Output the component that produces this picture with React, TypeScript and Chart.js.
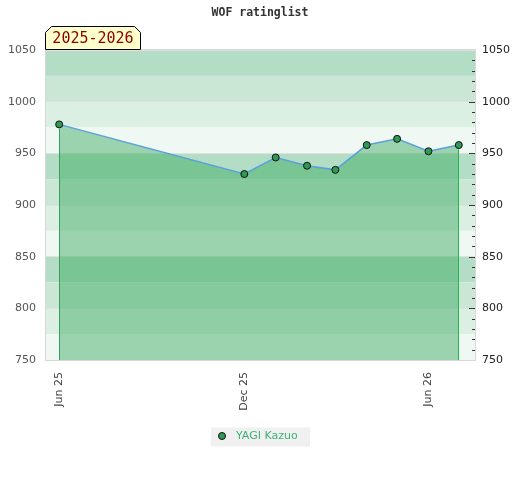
import React, { useEffect, useRef } from 'react';
import { Chart, registerables } from 'chart.js';

Chart.register(...registerables);

const TITLE = 'WOF ratinglist';
const SEASON = '2025-2026';
const PLAYER = 'YAGI Kazuo';

const dates = ['2025-06-01', '2025-12-01', '2026-01-01', '2026-02-01', '2026-03-01', '2026-04-01', '2026-05-01', '2026-06-01', '2026-07-01'];
const ratings = [978, 930, 946, 938, 934, 958, 964, 952, 958];

const tickDates = ['2025-06-01', '2025-12-01', '2026-06-01'];
const tickLabels = ['Jun 25', 'Dec 25', 'Jun 26'];

const xMinDate = '2025-05-19';
const xMaxDate = '2026-07-17';
const yMin = 750;
const yMax = 1050;
const yStep = 50;
const bandStep = 25;
const minorStep = 10;

const bandColors = ['#b3dec5', '#c9e7d4', '#dcefe3', '#eff8f2'];
const fillColor = 'rgba(50,166,89,0.45)';
const lineColor = '#5aa0dc';
const pointColor = '#2e9a55';
const playerColor = '#3cb371';
const firstEdgeColor = '#34a058';
const lastEdgeColor = '#1fb84c';

const toTs = (s: string) => Date.parse(s + 'T00:00:00Z');

const decor = {
  id: 'decor',
  beforeDraw(chart: any) {
    const { ctx, chartArea: a, scales } = chart;
    const y = scales.y;
    ctx.save();
    let i = 0;
    for (let v = yMax; v > yMin; v -= bandStep, i++) {
      const t = y.getPixelForValue(v);
      const b = y.getPixelForValue(v - bandStep);
      ctx.fillStyle = bandColors[i % bandColors.length];
      ctx.fillRect(a.left, t, a.right - a.left, b - t);
    }
    ctx.restore();
  },
  afterDatasetsDraw(chart: any) {
    const { ctx, scales } = chart;
    const x = scales.x, y = scales.y;
    const bottom = y.getPixelForValue(yMin);
    const n = dates.length;
    const ends = [
      { idx: 0, col: firstEdgeColor },
      { idx: n - 1, col: lastEdgeColor },
    ];
    ctx.save();
    for (const e of ends) {
      const px = Math.floor(x.getPixelForValue(toTs(dates[e.idx])));
      const py = y.getPixelForValue(ratings[e.idx]) + 4.5;
      ctx.fillStyle = e.col;
      ctx.fillRect(px, py, 1, bottom - py);
    }
    ctx.restore();
  },
  afterDraw(chart: any) {
    const { ctx, chartArea: a, scales } = chart;
    const y = scales.y;
    ctx.save();
    ctx.strokeStyle = '#d8d8d8';
    ctx.lineWidth = 1;
    ctx.strokeRect(a.left - 0.5, a.top - 0.5, a.right - a.left + 1, a.bottom - a.top + 1);

    ctx.strokeStyle = '#333';
    for (let v = yMin + minorStep; v < yMax; v += minorStep) {
      const py = Math.round(y.getPixelForValue(v)) + 0.5;
      const len = v % yStep === 0 ? 6 : 3;
      ctx.beginPath();
      ctx.moveTo(a.right - len, py);
      ctx.lineTo(a.right, py);
      ctx.stroke();
    }

    ctx.fillStyle = '#333';
    ctx.font = 'bold 11.5px "DejaVu Sans Mono", monospace';
    ctx.textAlign = 'center';
    ctx.textBaseline = 'middle';
    ctx.fillText(TITLE, chart.width / 2, 13);

    const l = a.left - 0.5, r = l + 95, bt = a.top - 0.5, tp = bt - 23, cut = 6;
    ctx.beginPath();
    ctx.moveTo(l, bt);
    ctx.lineTo(l, tp + cut);
    ctx.lineTo(l + cut, tp);
    ctx.lineTo(r - cut, tp);
    ctx.lineTo(r, tp + cut);
    ctx.lineTo(r, bt);
    ctx.closePath();
    ctx.fillStyle = '#ffffcc';
    ctx.fill();
    ctx.strokeStyle = '#000';
    ctx.stroke();
    ctx.fillStyle = '#8b0000';
    ctx.font = '15px "DejaVu Sans Mono", monospace';
    ctx.fillText(SEASON, (l + r) / 2, (tp + bt) / 2 + 1);

    const lx = 211, ly = 427.5;
    ctx.fillStyle = '#f0f0f0';
    ctx.fillRect(lx, ly, 99, 19);
    ctx.beginPath();
    ctx.arc(lx + 11, ly + 8.5, 3.5, 0, Math.PI * 2);
    ctx.fillStyle = pointColor;
    ctx.fill();
    ctx.strokeStyle = '#111';
    ctx.stroke();
    ctx.fillStyle = playerColor;
    ctx.font = '11px "DejaVu Sans", sans-serif';
    ctx.textAlign = 'left';
    ctx.fillText(PLAYER, lx + 25, ly + 9);
    ctx.restore();
  },
};

export default function App() {
  const ref = useRef<HTMLCanvasElement | null>(null);

  useEffect(() => {
    document.body.style.margin = '0';
    const canvas = ref.current;
    if (!canvas) return;
    const font = { family: 'DejaVu Sans', size: 11 };
    const plain = (v: any) => String(v);
    const chart = new Chart(canvas, {
      type: 'line',
      data: {
        datasets: [
          {
            label: PLAYER,
            data: dates.map((d, i) => ({ x: toTs(d), y: ratings[i] })),
            borderColor: lineColor,
            borderWidth: 1.5,
            backgroundColor: fillColor,
            fill: 'start',
            tension: 0,
            pointRadius: 3.5,
            pointBackgroundColor: pointColor,
            pointBorderColor: '#111',
            pointBorderWidth: 1,
          },
        ],
      },
      options: {
        responsive: false,
        animation: false,
        devicePixelRatio: 1,
        layout: { padding: { top: 50, left: 0, right: 0, bottom: 0 } },
        plugins: {
          legend: { display: false },
          title: { display: false },
          tooltip: { enabled: false },
        },
        scales: {
          x: {
            type: 'linear',
            min: toTs(xMinDate),
            max: toTs(xMaxDate),
            afterBuildTicks: (s: any) => {
              s.ticks = tickDates.map((d) => ({ value: toTs(d) }));
            },
            afterFit: (s: any) => {
              s.height = 120;
            },
            grid: { display: false, drawTicks: false },
            border: { display: false },
            ticks: {
              autoSkip: false,
              maxRotation: 90,
              minRotation: 90,
              padding: 12,
              color: '#444',
              font,
              callback: (_v: any, i: number) => tickLabels[i],
            },
          },
          y: {
            position: 'left',
            min: yMin,
            max: yMax,
            afterFit: (s: any) => {
              s.width = 46;
            },
            ticks: { stepSize: yStep, padding: 10, color: '#555', font, callback: plain },
            grid: { color: '#e0e0e0', drawTicks: false },
            border: { display: false },
          },
          y2: {
            position: 'right',
            min: yMin,
            max: yMax,
            afterFit: (s: any) => {
              s.width = 45;
            },
            ticks: { stepSize: yStep, padding: 7, color: '#222', font, callback: plain },
            grid: { display: false, drawTicks: false },
            border: { display: false },
          },
        },
      } as any,
      plugins: [decor],
    });
    return () => chart.destroy();
  }, []);

  return (
    <div style={{ width: 520, height: 480 }}>
      <canvas ref={ref} width={520} height={480} style={{ display: 'block' }} />
    </div>
  );
}
